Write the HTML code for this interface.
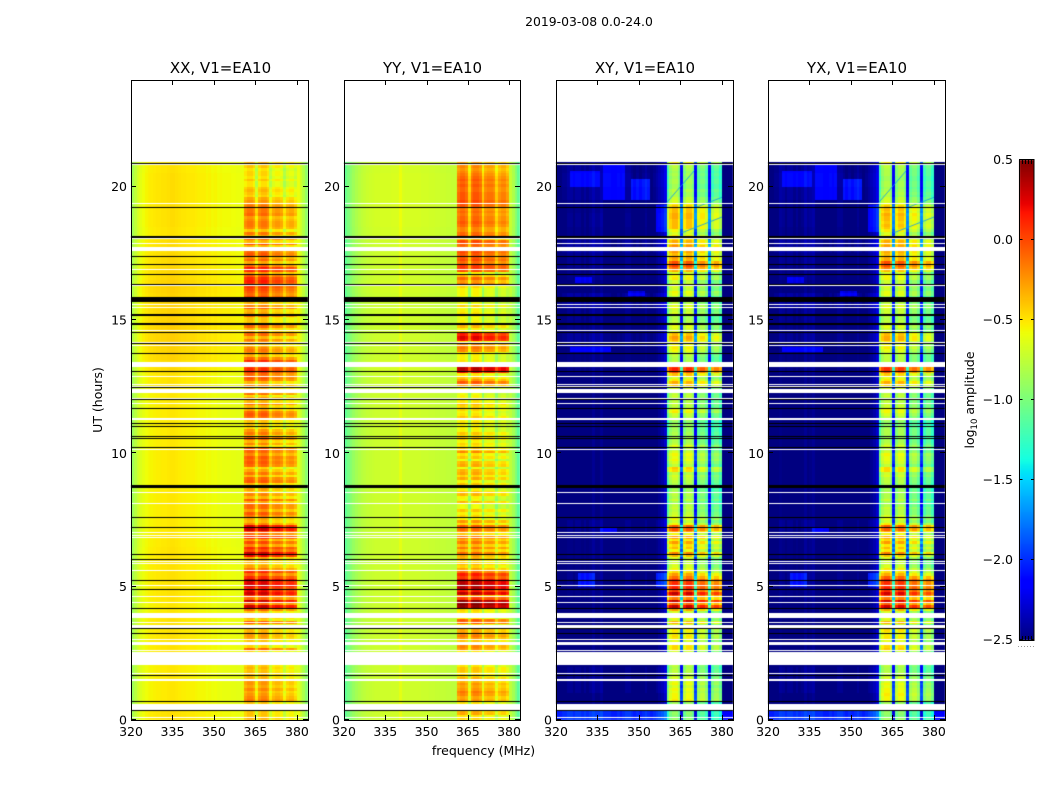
<!DOCTYPE html>
<html>
<head>
<meta charset="utf-8">
<title>2019-03-08 0.0-24.0</title>
<style>
html,body{margin:0;padding:0;background:#fff;}
#fig{position:relative;width:1050px;height:800px;overflow:hidden;background:#fff;}
canvas{position:absolute;left:0;top:0;}
svg{position:absolute;left:0;top:0;}
text{font-family:"DejaVu Sans","Liberation Sans",sans-serif;fill:#000;}
</style>
</head>
<body>
<div id="fig">
<canvas id="heat" width="1050" height="800"></canvas>
<svg id="ov" width="1050" height="800" viewBox="0 0 1050 800">
<text x="589" y="26" font-size="12.400" text-anchor="middle">2019-03-08 0.0-24.0</text>
<text x="220.500" y="73" font-size="15" text-anchor="middle">XX, V1=EA10</text>
<text x="432.500" y="73" font-size="15" text-anchor="middle">YY, V1=EA10</text>
<text x="645" y="73" font-size="15" text-anchor="middle">XY, V1=EA10</text>
<text x="857" y="73" font-size="15" text-anchor="middle">YX, V1=EA10</text>
<text x="483.500" y="755" font-size="12.500" text-anchor="middle">frequency (MHz)</text>
<text x="0" y="0" transform="translate(102,400) rotate(-90)" font-size="12.500" text-anchor="middle">UT (hours)</text>
<text x="0" y="0" transform="translate(974,400) rotate(-90)" font-size="12.500" text-anchor="middle">log<tspan font-size="8.500" dy="3">10</tspan><tspan dy="-3"> amplitude</tspan></text>
</svg>
</div>
<script>
/* ---------- axis data ---------- */
var xTickLabels = [320, 335, 350, 365, 380];
var yTickLabels = [0, 5, 10, 15, 20];
var colorbarTickLabels = [-2.5, -2.0, -1.5, -1.0, -0.5, 0.0, 0.5];

/* ---------- spectra: log10 amplitude per 1 MHz channel, 320..383 MHz ---------- */
var xxSpectrum = [-.88,-.78,-.7,-.65,-.61,-.58,-.56,-.55,-.54,-.53,-.53,-.52,-.52,-.51,-.5,-.5,-.51,-.52,-.53,-.53,-.54,-.54,-.54,-.55,-.56,-.56,-.56,-.58,-.57,-.59,-.58,-.6,-.59,-.6,-.6,-.6,-.61,-.61,-.62,-.62,-.62,
 -.05,.02,.02,-.05,-.3,-.05,.02,.02,-.05,-.3,-.15,-.1,-.1,-.15,-.35,-.2,-.15,-.15,-.25,
 -.62,-.72,-.82,-.95];
var yySpectrum = [-1.1,-1.02,-.96,-.9,-.85,-.81,-.78,-.76,-.74,-.73,-.72,-.71,-.71,-.7,-.7,-.7,-.7,-.69,-.69,-.69,-.62,-.69,-.7,-.7,-.7,-.7,-.7,-.7,-.71,-.71,-.71,-.72,-.72,-.73,-.73,-.74,-.74,-.75,-.75,-.76,-.76,
 -.05,.02,.02,-.05,-.35,-.05,.02,.02,-.05,-.35,-.12,-.08,-.08,-.12,-.35,-.18,-.12,-.12,-.22,
 -.75,-.85,-.98,-1.12];
var xySpectrum = [-2.6,-2.6,-2.55,-2.55,-2.5,-2.5,-2.55,-2.5,-2.5,-2.55,-2.5,-2.55,-2.5,-2.45,-2.5,-2.5,-2.45,-2.55,-2.55,-2.55,-2.6,-2.6,-2.55,-2.6,-2.55,-2.5,-2.5,-2.55,-2.6,-2.55,-2.6,-2.55,-2.5,-2.55,-2.6,-2.55,-2.5,-2.45,-2.4,-2.3,
 -.35,-.05,.05,.05,-.12,-1.3,-.12,.02,.02,-.12,-1.3,-.25,-.15,-.15,-.3,-1.3,-.38,-.25,-.25,-.42,
 -2.7,-2.7,-2.7,-2.7];
var yxSpectrum = [-2.6,-2.6,-2.55,-2.55,-2.48,-2.5,-2.55,-2.5,-2.5,-2.55,-2.5,-2.55,-2.52,-2.45,-2.5,-2.48,-2.45,-2.55,-2.55,-2.55,-2.6,-2.6,-2.55,-2.6,-2.55,-2.5,-2.5,-2.55,-2.6,-2.55,-2.6,-2.55,-2.5,-2.55,-2.6,-2.55,-2.5,-2.45,-2.4,-2.3,
 -.35,-.05,.05,.05,-.12,-1.3,-.12,.02,.02,-.12,-1.3,-.25,-.15,-.15,-.3,-1.3,-.38,-.25,-.25,-.42,
 -2.7,-2.7,-2.7,-2.7];

/* ---------- in-band level per 0.1 h row, hour 0..21 ---------- */
var xxBandRows = [
-.35,-.4,-.4,-.4,-.4,-.4,-.4,-.15,-.2,-.25,
-.3,-.2,-.3,-.25,-.25,-.35,-.4,-.35,-.4,-.35,
-.4,-.4,-.4,-.4,-.4,-.45,-.1,-.45,-.4,-.4,
-.3,-.25,-.3,-.35,-.3,-.45,-.05,-.45,-.35,-.35,
-.4,-.1,.3,-.1,.3,-.1,.05,.3,.2,.15,
.3,.25,.35,.1,-.1,.1,-.15,-.3,-.4,-.35,
-.3,.2,.3,0,.1,-.2,0,-.25,.1,-.1,
0,.3,.25,-.2,-.35,-.3,-.15,-.05,-.25,-.1,
-.1,-.3,-.05,-.35,-.2,-.45,-.3,-.2,-.35,-.05,
-.1,-.35,-.15,-.3,-.45,-.1,-.05,-.1,-.05,-.2,
-.1,-.05,-.4,-.2,-.35,-.1,-.35,-.15,-.25,-.45,
-.4,-.4,-.35,-.1,-.05,-.1,-.3,-.35,-.1,-.35,
-.25,-.45,-.15,-.35,-.35,-.2,-.35,-.1,-.05,-.1,
.05,.1,.05,.05,.1,-.1,-.35,-.25,-.15,-.2,
-.35,-.25,-.15,-.35,-.1,-.3,-.35,-.1,-.3,-.4,
-.4,-.1,-.3,-.35,-.05,-.2,-.35,-.1,0,-.1,
-.05,0,.05,.05,.15,.1,-.05,-.25,.1,.15,
-.1,-.3,-.1,-.2,-.05,-.1,-.2,-.35,0,-.35,
-.1,-.35,-.15,-.4,-.2,-.15,-.15,-.2,-.25,-.1,
-.15,-.15,-.15,-.2,-.25,-.3,-.45,-.4,-.35,-.4,
-.5,-.5,-.4,-.5,-.45,-.45,-.5,-.4,-.45,-.35];
var yyBandRows = [
-.45,-.5,-.3,-.35,-.5,-.5,-.5,-.25,-.3,-.2,
-.15,-.25,-.3,-.25,-.35,-.35,-.5,-.45,-.4,-.4,
-.5,-.5,-.5,-.5,-.5,-.5,-.25,-.2,-.5,-.4,
-.25,-.15,-.25,-.3,-.15,-.5,-.05,-.05,-.5,-.45,
-.5,-.45,.45,.5,.45,.05,-.3,.35,.15,.35,
.4,.35,.3,.05,.15,-.1,-.3,-.45,-.35,-.45,
-.35,-.3,-.1,-.35,-.15,-.35,-.15,-.3,-.15,-.4,
-.25,-.1,-.05,-.45,-.25,-.55,-.45,-.55,-.4,-.6,
-.6,-.35,-.6,-.55,-.35,-.4,-.55,-.55,-.4,-.55,
-.3,-.45,-.3,-.35,-.6,-.3,-.35,-.6,-.4,-.5,
-.2,-.4,-.5,-.45,-.55,-.4,-.5,-.4,-.55,-.55,
-.55,-.5,-.55,-.4,-.5,-.55,-.45,-.45,-.35,-.5,
-.55,-.55,-.6,-.4,-.55,-.3,-.05,-.25,-.4,-.5,
.2,.35,.35,.3,-.5,-.55,-.55,-.5,-.2,-.15,
-.2,-.5,.2,.25,.15,-.45,-.55,-.35,-.1,-.55,
-.6,-.55,-.5,-.55,-.6,-.45,-.6,-.55,-.6,-.55,
-.55,-.55,-.45,-.15,-.25,-.1,-.35,-.55,0,.05,
.05,-.1,0,-.05,-.05,0,-.35,-.1,-.05,0,
-.35,-.05,-.1,-.2,-.2,-.1,-.05,-.1,-.1,-.15,
-.1,-.15,-.05,0,0,-.05,-.05,-.05,-.1,-.1,
-.05,-.1,-.05,-.1,-.15,-.2,-.25,-.2,-.2,-.3];
var xyBandRows = [
-.95,-1,-.95,-1,-.9,-.9,-.9,-.55,-.6,-.6,
-.65,-.6,-.7,-.6,-.65,-.7,-.75,-.8,-.8,-.85,
-.8,-.8,-.8,-.8,-.8,-.7,-.5,-.5,-.7,-.65,
-.55,-.5,-.6,-.55,-.5,-.7,-.35,-.7,-.6,-.7,
-.7,-.3,.3,-.1,.3,-.2,0,.3,0,.1,
.1,.05,.1,-.15,-.3,-.5,-.6,-.7,-.7,-.75,
-.7,-.4,-.2,-.6,-.4,-.5,-.3,-.55,-.3,-.6,
-.3,-.05,-.1,-.6,-.75,-.6,-.7,-.75,-.8,-.75,
-.8,-.9,-.75,-.85,-.8,-.85,-.9,-.85,-.85,-.8,
-.75,-.7,-.8,-.5,-.45,-.8,-.7,-.6,-.65,-.6,
-.7,-.8,-.65,-.8,-.85,-.85,-.9,-.85,-.9,-.9,
-.9,-.95,-.85,-.8,-.75,-.55,-.6,-.8,-.75,-.8,
-.8,-.75,-.8,-.75,-.7,-.45,-.35,-.55,-.7,-.4,
-.05,.1,.05,.1,-.8,-.85,-.8,-.75,-.6,-.55,
-.6,-.5,-.35,-.3,-.4,-.7,-.7,-.65,-.55,-.8,
-.85,-.85,-.7,-.75,-.6,-.65,-.8,-.7,-.85,-.65,
-.6,-.75,-.7,-.7,-.75,-.55,-.6,-.7,-.35,-.15,
0,-.05,-.35,-.3,-.4,-.3,-.5,-.25,-.4,-.35,
-.5,-.55,-.7,-.6,-.4,-.4,-.4,-.4,-.35,-.35,
-.4,-.4,-.45,-.55,-.7,-.75,-.85,-.85,-.8,-.9,
-.9,-.85,-.85,-.9,-.85,-.9,-.85,-.8,-.6,-.55];
var yxBandRows = [
-.9,-1,-.95,-.95,-.9,-.9,-.9,-.6,-.6,-.55,
-.6,-.6,-.65,-.6,-.7,-.7,-.75,-.8,-.85,-.85,
-.8,-.8,-.8,-.8,-.8,-.7,-.45,-.5,-.75,-.65,
-.55,-.55,-.6,-.5,-.5,-.75,-.35,-.7,-.65,-.7,
-.7,-.35,.25,-.1,.25,-.2,0,.25,.05,.1,
.05,.05,.1,-.1,-.35,-.5,-.55,-.7,-.75,-.75,
-.7,-.45,-.2,-.55,-.4,-.55,-.3,-.5,-.35,-.6,
-.35,-.1,-.1,-.55,-.75,-.65,-.7,-.8,-.8,-.75,
-.85,-.9,-.75,-.85,-.85,-.85,-.9,-.8,-.85,-.8,
-.8,-.7,-.75,-.5,-.5,-.8,-.7,-.65,-.65,-.6,
-.75,-.8,-.7,-.8,-.85,-.9,-.9,-.85,-.85,-.9,
-.95,-.95,-.85,-.8,-.7,-.6,-.6,-.75,-.75,-.8,
-.85,-.75,-.8,-.7,-.7,-.5,-.35,-.55,-.65,-.45,
-.1,.05,.05,.05,-.8,-.8,-.8,-.75,-.65,-.55,
-.6,-.55,-.35,-.35,-.4,-.7,-.75,-.65,-.5,-.8,
-.85,-.8,-.75,-.75,-.65,-.65,-.8,-.75,-.85,-.65,
-.65,-.75,-.7,-.75,-.75,-.6,-.6,-.7,-.4,-.2,
-.05,-.05,-.35,-.35,-.4,-.35,-.5,-.3,-.4,-.35,
-.5,-.6,-.7,-.55,-.45,-.4,-.45,-.4,-.4,-.35,
-.45,-.4,-.45,-.6,-.7,-.75,-.85,-.8,-.85,-.9,
-.85,-.85,-.9,-.9,-.85,-.85,-.85,-.8,-.65,-.55];

/* ---------- out-of-band offset per 0.5 h bin, hour 0..21 ---------- */
var xxOffBins = [.03,0,0,0,0,.02,.02,.02,0,.02,.02,.02,.02,.01,0,0,0,0,0,0,0,0,0,0,0,.02,.05,.07,.08,.08,.07,.07,.08,.06,.05,.04,.02,.03,.03,.03,.03,.02];
var yyOffBins = [0,0,0,0,0,0,0,0,0,0,0,0,0,0,0,0,0,0,0,0,0,0,0,0,0,0,.02,0,0,0,0,0,.02,0,0,0,.02,.03,.03,.03,.03,.02];
var xyOffBins = [.55,0,.05,.05,0,0,0,0,0,.02,.05,.02,.02,.02,.05,0,0,0,0,0,0,0,0,0,0,0,.03,.02,.08,.03,.05,.1,0,.03,.05,.1,.03,.05,.03,.08,.1,.08];
var yxOffBins = [.55,0,.05,.05,0,0,0,0,0,.02,.05,.02,.02,.02,.05,0,0,0,0,0,0,0,0,0,0,0,.03,.02,.06,.03,.05,.1,0,.03,.05,.1,.03,.05,.05,.08,.1,.08];

/* ---------- brighter blue patches off-band in the cross-hand panels ---------- */
var patchFreqStart = [325,337,347,356,327,325,328,356,336,346];
var patchFreqEnd = [336,345,354,360,333,340,334,360,342,352];
var patchHourStart = [20,19.5,19.5,18.25,16.4,13.75,5,5,7,15.9];
var patchHourEnd = [20.6,20.75,20.25,19.25,16.6,14,5.5,5.5,7.2,16.1];
var patchBoost = [.3,.35,.4,.3,.3,.35,.4,.4,.35,.3];

/* ---------- flagged time ranges, hours ---------- */
var whiteLines = [.1,1.75,2.64,3.03,3.69,4.44,4.64,5.06,5.61,5.88,5.95,6.05,6.86,6.95,7.04,8.13,8.54,10.15,11.69,11.88,12.06,12.53,12.59,12.89,14.06,14.16,14.61,14.88,15.5,15.6,16.31,16.9,17.11,17.89,18.08,19.38,20.85];
var whiteBands = [[.39,.61],[1.47,1.55],[2.06,2.55],[2.82,2.94],[3.45,3.55],[3.83,4.01],[11.25,11.33],[12.26,12.42],[13.24,13.43],[17.59,17.72],[20.92,21]];
var blackLines = [.375,.7,1.68,3.25,3.44,4.19,4.91,5.25,6.03,6.24,7.23,10.23,10.58,10.66,11.03,11.13,11.71,12.04,12.48,13.08,13.75,14.13,14.54,16.34,16.71,17.09,17.41,19.23,20.88];
var blackBands = [[7.56,7.63],[8.71,8.8],[14.81,14.88],[15.14,15.23],[15.69,15.87],[18.07,18.16]];

/* ---------- RFI traces crossing the cross-hand bands: MHz, hour ---------- */
var traceStartFreq = [360,370,365];
var traceStartHour = [19.4,19.2,18.25];
var traceEndFreq = [370,380,380];
var traceEndHour = [20.6,19.6,18.86];

var panelNames = ['xx','yy','xy','yx'];
var panelLefts = [131,344,556,768];
var panelRights = [308,520,733,945];
var panelSpectra = [xxSpectrum,yySpectrum,xySpectrum,yxSpectrum];
var panelBandRows = [xxBandRows,yyBandRows,xyBandRows,yxBandRows];
var panelOffBins = [xxOffBins,yyOffBins,xyOffBins,yxOffBins];
var panelBandStart = [361,361,360,360];

var AX_TOP = 80, AX_BOTTOM = 720, HOUR_MAX = 24, FREQ_MIN = 320, FREQ_MAX = 384;
var CB_LEFT = 1019.5, CB_RIGHT = 1034, CB_TOP = 160, CB_BOTTOM = 640;

function yScale(h){ return AX_BOTTOM - (h / HOUR_MAX) * (AX_BOTTOM - AX_TOP); }
function xScaleFor(p){
  return function(f){ return panelLefts[p] + (f - FREQ_MIN) / (FREQ_MAX - FREQ_MIN) * (panelRights[p] - panelLefts[p]); };
}
function cbScale(v){ return CB_BOTTOM - (v + 2.5) / 3 * (CB_BOTTOM - CB_TOP); }
function ramp(t, pts){
  for (var i = 1; i < pts.length; i++) {
    if (t <= pts[i][0]) {
      var a = pts[i-1], b = pts[i];
      return a[1] + (t - a[0]) / (b[0] - a[0]) * (b[1] - a[1]);
    }
  }
  return pts[pts.length-1][1];
}
var jetR = [[0,0],[.35,0],[.66,1],[.89,1],[1,.5]];
var jetG = [[0,0],[.125,0],[.375,1],[.64,1],[.91,0],[1,0]];
var jetB = [[0,.5],[.11,1],[.34,1],[.65,0],[1,0]];
function jet(v){
  var t = Math.max(0, Math.min(1, (v + 2.5) / 3));
  return 'rgb(' + Math.round(255*ramp(t,jetR)) + ',' + Math.round(255*ramp(t,jetG)) + ',' + Math.round(255*ramp(t,jetB)) + ')';
}
function patchAt(f, h){
  var boost = 0;
  for (var i = 0; i < patchBoost.length; i++) {
    if (f >= patchFreqStart[i] && f < patchFreqEnd[i] && h >= patchHourStart[i] && h < patchHourEnd[i]) {
      boost = Math.max(boost, patchBoost[i]);
    }
  }
  return boost;
}

var ctx = document.getElementById('heat').getContext('2d');
var ROW_H = 0.1, BAND_END = 379;

panelNames.forEach(function(name, p){
  var xs = xScaleFor(p);
  var spec = panelSpectra[p], rows = panelBandRows[p], off = panelOffBins[p];
  var cross = (name === 'xy' || name === 'yx');
  for (var r = 0; r < rows.length; r++) {
    var y0 = Math.round(yScale(r * ROW_H)), y1 = Math.round(yScale((r + 1) * ROW_H));
    for (var c = 0; c < spec.length; c++) {
      var f = FREQ_MIN + c;
      var inBand = f >= panelBandStart[p] && f <= BAND_END;
      var v = spec[c] + (inBand ? rows[r] : off[Math.floor(r / 5)]);
      if (cross && !inBand) { v += patchAt(f, r * ROW_H); }
      var x0 = Math.round(xs(f)), x1 = Math.round(xs(f + 1));
      ctx.fillStyle = jet(v);
      ctx.fillRect(x0, y1, x1 - x0, y0 - y1);
    }
  }
  if (cross) {
    ctx.strokeStyle = 'rgba(0,150,255,0.75)';
    ctx.lineWidth = 1;
    traceStartFreq.forEach(function(f0, i){
      ctx.beginPath();
      ctx.moveTo(xs(f0), yScale(traceStartHour[i]));
      ctx.lineTo(xs(traceEndFreq[i]), yScale(traceEndHour[i]));
      ctx.stroke();
    });
  }
  var L = Math.round(panelLefts[p]), W = Math.round(panelRights[p]) - L;
  ctx.fillStyle = '#fff';
  whiteLines.forEach(function(h){ ctx.fillRect(L, Math.round(yScale(h)), W, 1); });
  whiteBands.forEach(function(b){
    var t = Math.round(yScale(b[1]));
    ctx.fillRect(L, t, W, Math.max(1, Math.round(yScale(b[0])) - t));
  });
  ctx.fillStyle = '#000';
  blackLines.forEach(function(h){ ctx.fillRect(L, Math.round(yScale(h)), W, 1); });
  blackBands.forEach(function(b){
    var t = Math.round(yScale(b[1]));
    ctx.fillRect(L, t, W, Math.max(1, Math.round(yScale(b[0])) - t));
  });
});

/* colorbar */
for (var py = CB_TOP; py < CB_BOTTOM; py++) {
  var val = 0.5 - (py + 0.5 - CB_TOP) / (CB_BOTTOM - CB_TOP) * 3;
  ctx.fillStyle = jet(val);
  ctx.fillRect(CB_LEFT, py, CB_RIGHT - CB_LEFT, 1);
}

/* overlay */
var NS = 'http://www.w3.org/2000/svg';
var ov = document.getElementById('ov');
function line(x1, y1, x2, y2){
  var l = document.createElementNS(NS, 'line');
  l.setAttribute('x1', x1); l.setAttribute('y1', y1);
  l.setAttribute('x2', x2); l.setAttribute('y2', y2);
  l.setAttribute('stroke', '#000'); l.setAttribute('stroke-width', '1');
  ov.appendChild(l);
  return l;
}
function label(str, x, y, anchor){
  var t = document.createElementNS(NS, 'text');
  t.setAttribute('x', x); t.setAttribute('y', y);
  t.setAttribute('text-anchor', anchor);
  t.setAttribute('font-size', '12.5');
  t.textContent = str;
  ov.appendChild(t);
  return t;
}
panelNames.forEach(function(name, p){
  var xs = xScaleFor(p);
  var L = panelLefts[p], R = panelRights[p];
  var frame = document.createElementNS(NS, 'rect');
  frame.setAttribute('x', L + 0.5);
  frame.setAttribute('y', AX_TOP + 0.5);
  frame.setAttribute('width', R - L);
  frame.setAttribute('height', AX_BOTTOM - AX_TOP);
  frame.setAttribute('fill', 'none');
  frame.setAttribute('stroke', '#000');
  frame.setAttribute('stroke-width', '1');
  
  
  ov.appendChild(frame);
  xTickLabels.forEach(function(f){
    var x = Math.round(xs(f)) + 0.5;
    var t1 = line(x, AX_BOTTOM, x, AX_BOTTOM - 5);
    
    
    var t2 = line(x, AX_TOP, x, AX_TOP + 5);
    
    
    var xl = label(String(f), xs(f), 736, 'middle');
    
    
  });
  yTickLabels.forEach(function(h){
    var y = Math.round(yScale(h)) - 0.5;
    var t1 = line(L, y, L + 5, y);
    
    
    var t2 = line(R, y, R - 5, y);
    
    
    var yl = label(String(h), L - 4, yScale(h) + 4.5, 'end');
    
    
  });
});

var cbFrame = document.createElementNS(NS, 'rect');
cbFrame.setAttribute('x', CB_LEFT);
cbFrame.setAttribute('y', CB_TOP - 0.5);
cbFrame.setAttribute('width', CB_RIGHT - CB_LEFT);
cbFrame.setAttribute('height', CB_BOTTOM - CB_TOP + 1);
cbFrame.setAttribute('fill', 'none');
cbFrame.setAttribute('stroke', '#000');
cbFrame.setAttribute('stroke-width', '1');


ov.appendChild(cbFrame);

colorbarTickLabels.forEach(function(v){
  var y = Math.round(cbScale(v)) - 0.5;
  var a = line(CB_LEFT, y, CB_LEFT + 3, y);
  
  
  var b = line(CB_RIGHT, y, CB_RIGHT - 3, y);
  
  
  var str = (v < 0 ? '\u2212' : '') + Math.abs(v).toFixed(1);
  var t = label(str, 1013, Math.max(cbScale(v) + 4, 164), 'end');
  
  
});

for (var m = 1; m <= 4; m++) {
  var mx = Math.round(CB_LEFT + m * (CB_RIGHT - CB_LEFT) / 5) + 0.5;
  var mt = line(mx, CB_TOP, mx, CB_TOP + 4);
  
  
  var mb = line(mx, CB_BOTTOM, mx, CB_BOTTOM - 4);
  
  
}

var dots = line(1018, 646.5, 1035, 646.5);
dots.setAttribute('stroke', '#999');
dots.setAttribute('stroke-dasharray', '1 2');


</script>
</body>
</html>
